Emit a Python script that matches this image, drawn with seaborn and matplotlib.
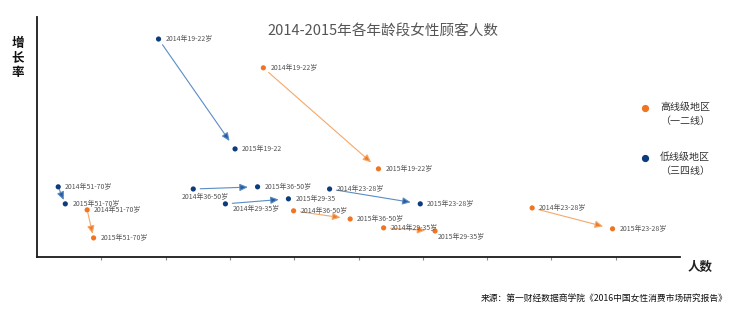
import matplotlib
matplotlib.use("Agg")
import matplotlib.pyplot as plt
from matplotlib.lines import Line2D
import seaborn as sns
import pandas as pd

# ---- data -------------------------------------------------------------
age_groups = ["19-22", "51-70", "36-50", "29-35", "23-28"]

# low-tier cities (三四线)
low_x_2014 = [1.89, 0.33, 2.43, 2.93, 4.55]
low_y_2014 = [9.08, 2.92, 2.83, 2.21, 2.83]
low_x_2015 = [3.08, 0.44, 3.43, 3.91, 5.96]
low_y_2015 = [4.50, 2.21, 2.92, 2.42, 2.21]
low_labels_2014 = ["2014年19-22岁", "2014年51-70岁", "2014年36-50岁", "2014年29-35岁", "2014年23-28岁"]
low_labels_2015 = ["2015年19-22", "2015年51-70岁", "2015年36-50岁", "2015年29-35", "2015年23-28岁"]

# high-tier cities (一二线)
high_x_2014 = [3.52, 0.78, 3.99, 5.39, 7.70]
high_y_2014 = [7.88, 1.96, 1.92, 1.21, 2.04]
high_x_2015 = [5.31, 0.88, 4.87, 6.19, 8.95]
high_y_2015 = [3.67, 0.79, 1.58, 1.08, 1.17]
high_labels_2014 = ["2014年19-22岁", "2014年51-70岁", "2014年36-50岁", "2014年29-35岁", "2014年23-28岁"]
high_labels_2015 = ["2015年19-22岁", "2015年51-70岁", "2015年36-50岁", "2015年29-35岁", "2015年23-28岁"]

tier_names = ["高线级地区\n（一二线）", "低线级地区\n（三四线）"]
title = "2014-2015年各年龄段女性顾客人数"
source = "来源：第一财经数据商学院《2016中国女性消费市场研究报告》"

# ---- styling ----------------------------------------------------------
sns.set_theme(style="white")
plt.rcParams["font.family"] = ["Noto Sans CJK SC", "DejaVu Sans"]

DOT = {"low": "#0c3c7e", "high": "#f07522"}
LINE = {"low": "#5a8cc6", "high": "#f5a86a"}
HEAD = {"low": "#2a5a9c", "high": "#ef7a2c"}

rows = []
for tier, xs14, ys14, xs15, ys15, l14, l15 in [
    ("low", low_x_2014, low_y_2014, low_x_2015, low_y_2015, low_labels_2014, low_labels_2015),
    ("high", high_x_2014, high_y_2014, high_x_2015, high_y_2015, high_labels_2014, high_labels_2015),
]:
    for i, g in enumerate(age_groups):
        rows.append(dict(tier=tier, group=g, year=2014, x=xs14[i], y=ys14[i], label=l14[i]))
        rows.append(dict(tier=tier, group=g, year=2015, x=xs15[i], y=ys15[i], label=l15[i]))
df = pd.DataFrame(rows)

fig = plt.figure(figsize=(7.4, 3.26), dpi=100)
ax = fig.add_axes([0.050, 0.212, 0.869, 0.736])

# arrows from 2014 to 2015 for each age group; short ones get a smaller gap
for (tier, g), sub in df.groupby(["tier", "group"]):
    a = sub[sub.year == 2014].iloc[0]
    b = sub[sub.year == 2015].iloc[0]
    short = g == "51-70"
    ax.annotate("", xy=(b.x, b.y), xytext=(a.x, a.y),
                arrowprops=dict(arrowstyle="-|>,head_length=0.4,head_width=0.18",
                                ec=LINE[tier], fc=HEAD[tier], lw=0.8,
                                shrinkA=2 if short else 5, shrinkB=3 if short else 7),
                zorder=2)

sns.scatterplot(data=df, x="x", y="y", hue="tier", palette=DOT, s=14,
                linewidth=0, legend=False, ax=ax, zorder=3)

# label offsets in points (default: to the right of the dot)
label_offset = {
    ("low", 2014, "36-50"): (-8, -6),
    ("low", 2014, "29-35"): (5, -4),
    ("high", 2015, "29-35"): (2, -4),
}
for _, r in df.iterrows():
    dx, dy = label_offset.get((r.tier, r.year, r.group), (5, 0))
    ax.annotate(r.label, xy=(r.x, r.y), xytext=(dx, dy), textcoords="offset points",
                ha="left", va="center", fontsize=5, color="#555555", zorder=4)

ax.set_xlim(0, 10)
ax.set_ylim(0, 10)
ax.set_xticks(range(1, 10))
ax.set_xticklabels([])
ax.set_yticks([])
ax.set_xlabel("")
ax.set_ylabel("")
ax.tick_params(axis="x", bottom=True, length=2.5, width=0.8, color="#888888", direction="out")
for side in ["top", "right"]:
    ax.spines[side].set_visible(False)
for side in ["left", "bottom"]:
    ax.spines[side].set_color("#1a1a1a")
    ax.spines[side].set_linewidth(1.3)

# titles and axis names
fig.text(383 / 740, 1 - 31 / 326, title, ha="center", va="center", fontsize=10.5, color="#555555")
fig.text(18 / 740, 1 - 58 / 326, "增\n长\n率", ha="center", va="center", fontsize=9,
         fontweight="bold", color="#111111", linespacing=1.15)
fig.text(700 / 740, 1 - 267 / 326, "人数", ha="center", va="center", fontsize=9,
         fontweight="bold", color="#222222")
fig.text(728 / 740, 1 - 298 / 326, source, ha="right", va="center", fontsize=6.3, color="#111111")

# legend
for name, tier, ypx in [(tier_names[0], "high", 108), (tier_names[1], "low", 158)]:
    fig.add_artist(Line2D([645 / 740], [1 - ypx / 326], marker="o", markersize=4.2,
                          color=DOT[tier], linestyle="none", transform=fig.transFigure))
    fig.text(685 / 740, 1 - (ypx + 6) / 326, name, ha="center", va="center", fontsize=7.2,
             color="#333333", linespacing=1.4, multialignment="center")

fig.savefig("out.png", dpi=100)
